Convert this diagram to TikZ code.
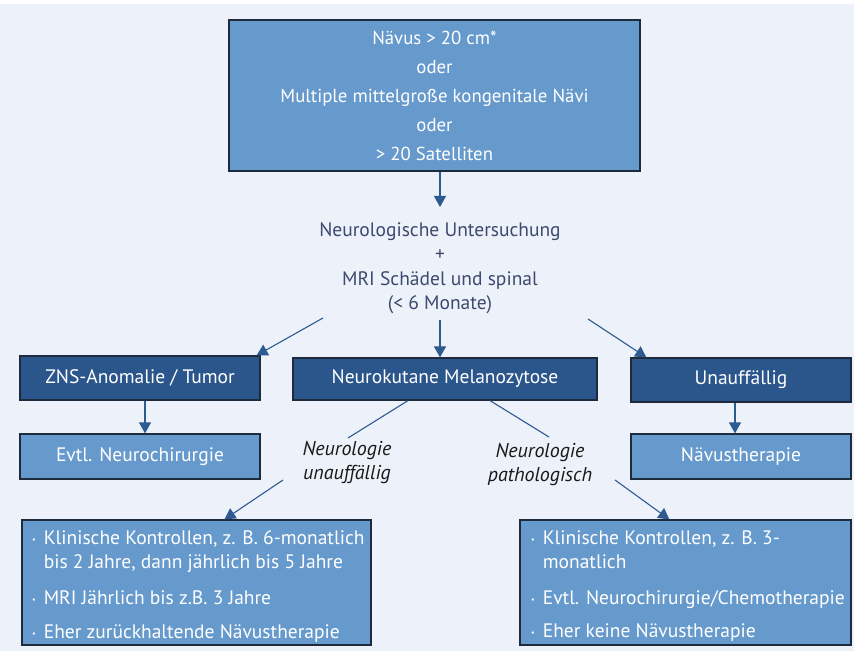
\documentclass[tikz,border=0pt]{standalone}
\usepackage{fontspec}
\setmainfont{PT Sans}
\usetikzlibrary{arrows.meta,calc}
\definecolor{bg}{HTML}{EDF1F9}
\definecolor{midblue}{HTML}{6699CC}
\definecolor{darkblue}{HTML}{2B568C}
\definecolor{edge}{HTML}{1E2B3D}
\definecolor{txt}{HTML}{3D4A6E}
\definecolor{arr}{HTML}{2E5A92}
\begin{document}
\begin{tikzpicture}[x=1pt,y=-1pt,
  font=\fontsize{19.5}{24}\selectfont,
  lightbox/.style={draw=edge, line width=1.2pt, fill=midblue, text=white, inner sep=0pt, align=center},
  darkbox/.style={lightbox, fill=darkblue},
  conn/.style={draw=arr, line width=1.1pt, -{Triangle[width=12pt,length=11pt]}},
  plainline/.style={draw=arr, line width=1.1pt},
  lbl/.style={font=\fontsize{20}{24}\selectfont\itshape, text=black!90, align=center, inner sep=0pt},
  bullettext/.style={text=white, inner sep=0pt, anchor=north west, align=left}]
\useasboundingbox (0,0) rectangle (854,655);
\fill[white] (0,0) rectangle (854,655);
\fill[bg] (0,4) rectangle (854,651);

% top box
\node[lightbox, minimum width=411pt, minimum height=151pt, font=\fontsize{18.8}{29}\selectfont] (top) at (434.5,95.5)
  {Nävus > 20 cm*\\oder\\Multiple mittelgroße kongenitale Nävi\\oder\\> 20 Satelliten};

% examination text
\node[text=txt, align=center, inner sep=0pt, font=\fontsize{19.5}{24.5}\selectfont] (exam) at (440,268)
  {Neurologische Untersuchung\\+\\MRI Schädel und spinal\\(< 6 Monate)};
\coordinate (eT) at (440,207);
\coordinate (eL) at (323,318);
\coordinate (eM) at (440,320);
\coordinate (eR) at (588,319);

% level 2
\node[darkbox, minimum width=240pt, minimum height=44pt] (zns) at (140,378) {ZNS-Anomalie / Tumor};
\node[darkbox, minimum width=304pt, minimum height=42pt] (neuro) at (445,379) {Neurokutane Melanozytose};
\node[darkbox, minimum width=220pt, minimum height=44pt] (unauf) at (741,380) {Unauffällig};

% level 3
\node[lightbox, minimum width=240pt, minimum height=45pt] (evtl) at (140,456.5) {Evtl. Neurochirurgie};
\node[lightbox, minimum width=220pt, minimum height=45pt] (naev) at (741,456.5) {Nävustherapie};

% italic labels
\node[lbl] (nu) at (347,463) {Neurologie\\unauffällig};
\node[lbl] (np) at (540,465) {Neurologie\\pathologisch};
\coordinate (nuT) at (348,438);
\coordinate (nuB) at (283,480);
\coordinate (npT) at (549,437);
\coordinate (npB) at (615,480);

% bottom boxes
\node[lightbox, minimum width=349pt, minimum height=125pt] (bl) at (196.5,582.5) {};
\node[lightbox, minimum width=331pt, minimum height=125pt] (br) at (685.5,582.5) {};

\node[bullettext] (blt) at (32,527) {%
  \begin{tabular}{@{}c@{\hspace{8pt}}l@{}}
  {\footnotesize\raisebox{2pt}{•}} & Klinische Kontrollen, z. B. 6-monatlich\\
   & bis 2 Jahre, dann jährlich bis 5 Jahre\\[12pt]
  {\footnotesize\raisebox{2pt}{•}} & MRI Jährlich bis z.B. 3 Jahre\\[10pt]
  {\footnotesize\raisebox{2pt}{•}} & Eher zurückhaltende Nävustherapie
  \end{tabular}};
\node[bullettext] (brt) at (531,527) {%
  \begin{tabular}{@{}c@{\hspace{8pt}}l@{}}
  {\footnotesize\raisebox{2pt}{•}} & Klinische Kontrollen, z. B. 3-\\
   & monatlich\\[12pt]
  {\footnotesize\raisebox{2pt}{•}} & Evtl. Neurochirurgie/Chemotherapie\\[9pt]
  {\footnotesize\raisebox{2pt}{•}} & Eher keine Nävustherapie
  \end{tabular}};

% connectors
\draw[conn] (top.south -| eT) -- (eT);
\draw[conn] (eL) -- ($(zns.north east)+(-4,0)$);
\draw[conn] (eM) -- (neuro.north -| eM);
\draw[conn] (eR) -- ($(unauf.north west)+(16,0)$);
\draw[conn] ($(zns.south)+(5,0)$) -- ($(evtl.north)+(5,0)$);
\draw[conn] ($(unauf.south)+(-6,0)$) -- ($(naev.north)+(-6,0)$);
\draw[plainline] ($(neuro.south)+(-37,0)$) -- (nuT);
\draw[plainline] ($(neuro.south)+(45,0)$) -- (npT);
\draw[conn] (nuB) -- ($(bl.north west)+(203,0)$);
\draw[conn] (npB) -- ($(br.north west)+(150,0)$);
\end{tikzpicture}
\end{document}
